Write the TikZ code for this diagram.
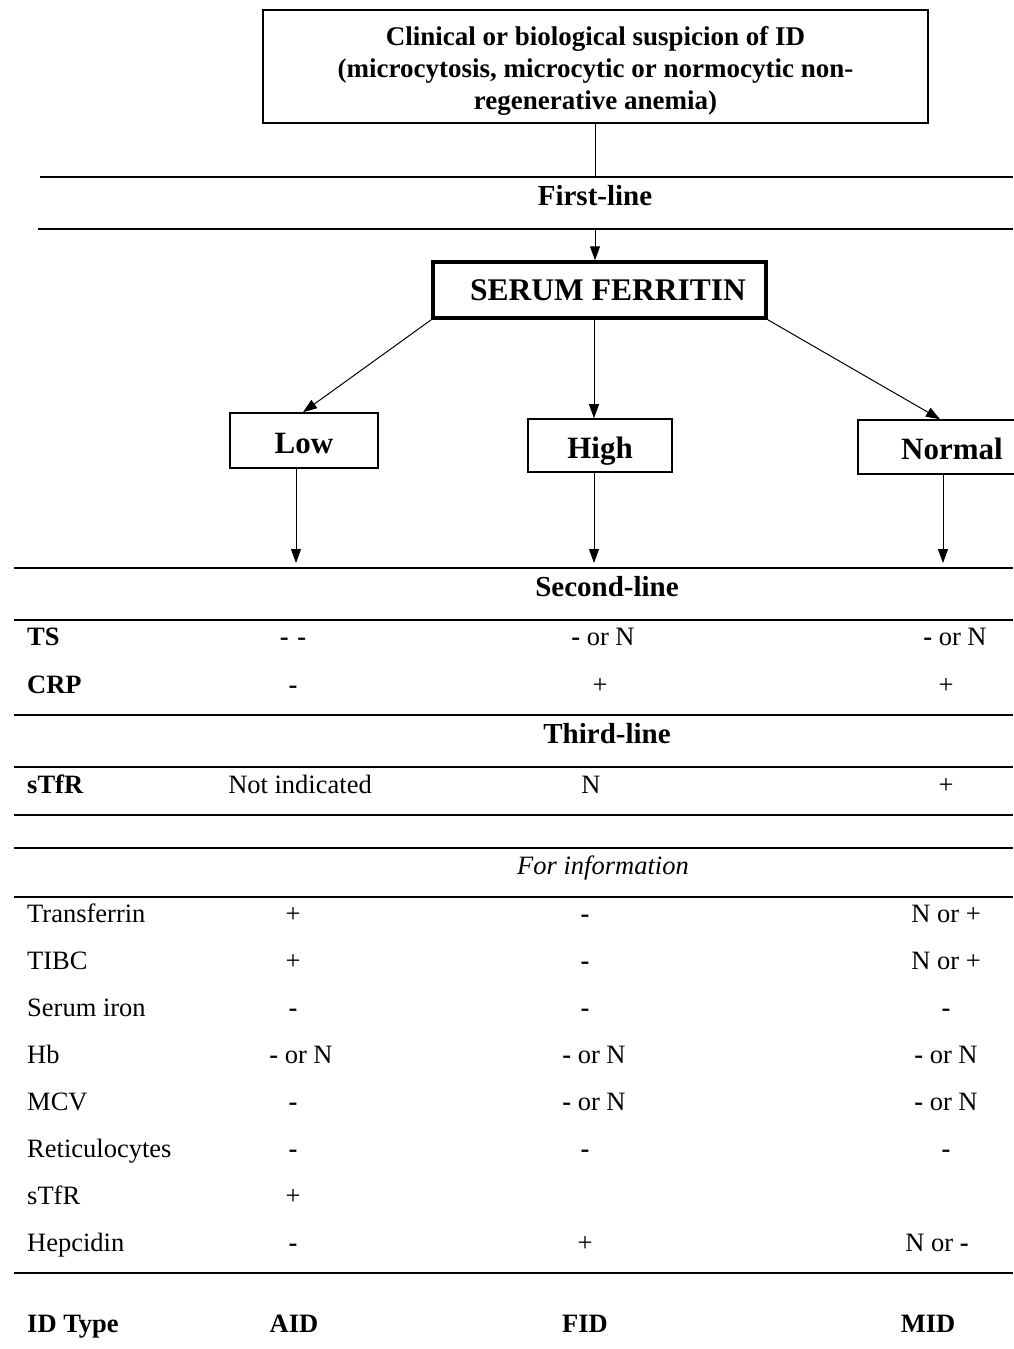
\documentclass[tikz,border=0pt]{standalone}
\usepackage{fontspec}
\setmainfont{Liberation Serif}
\usetikzlibrary{arrows.meta}
\begin{document}
\begin{tikzpicture}[x=1pt,y=-1pt,
  rulel/.style={line width=1.8pt},
  boxn/.style={draw, line width=1.6pt, inner sep=0pt},
  arr/.style={line width=1pt, -{Triangle[length=14pt,width=10pt]}},
  body/.style={anchor=base, inner sep=0pt, font=\fontsize{26.5}{30}\selectfont},
  lbl/.style={body, anchor=base west},
  blbl/.style={body, anchor=base west, font=\fontsize{26.5}{30}\selectfont\bfseries},
  head/.style={anchor=base, inner sep=0pt, font=\fontsize{29}{33}\selectfont\bfseries},
  bval/.style={body, font=\fontsize{26.5}{30}\selectfont\bfseries},
  res/.style={boxn, text height=25pt, text depth=0pt, font=\fontsize{31}{35}\selectfont\bfseries}
]
\useasboundingbox (0,0) rectangle (1013,1349);

% top box
\node[boxn, minimum width=665pt, minimum height=113pt, align=center,
  font=\fontsize{27}{32}\selectfont\bfseries] (top) at (595.5,66.5)
  {\rule{0pt}{28pt}Clinical or biological suspicion of ID\\(microcytosis, microcytic or normocytic non-\\regenerative anemia)};

% rules
\draw[rulel] (40,177) -- (1013,177);
\draw[rulel] (38,229) -- (1013,229);
\draw[rulel] (14,568) -- (1013,568);
\draw[rulel] (14,620) -- (1013,620);
\draw[rulel] (14,715) -- (1013,715);
\draw[rulel] (14,767) -- (1013,767);
\draw[rulel] (14,815) -- (1013,815);
\draw[rulel] (14,848) -- (1013,848);
\draw[rulel] (14,897) -- (1013,897);
\draw[rulel] (14,1273) -- (1013,1273);

\coordinate (f1) at (595,177);
\coordinate (f2) at (595,229);
\draw[line width=1pt] (top.south -| f1) -- (f1);

\node[head] (first) at (595,205) {First-line};

% serum ferritin
\node[draw, line width=3.5pt, inner sep=0pt, minimum width=333pt, minimum height=56pt,
  font=\fontsize{31.5}{35}\selectfont\bfseries] (sf) at (599.5,290) {\hspace*{17pt}SERUM FERRITIN};
\draw[arr] (f2) -- (sf.north -| f2);

% result boxes
\node[res, minimum width=148pt, minimum height=55pt] (low) at (304,440.5) {Low};
\node[res, minimum width=144pt, minimum height=53pt] (high) at (600,445.5) {High};
\node[res, minimum width=188pt, minimum height=54pt] (normal) at (952,447) {Normal};

\draw[arr] (sf.south west) -- ([xshift=-1pt]low.north);
\draw[arr] ([xshift=-5.5pt]sf.south) -- ([xshift=-6pt]high.north);
\draw[arr] (sf.south east) -- ([xshift=-12pt]normal.north);

\coordinate (d1) at (296,563);
\coordinate (d2) at (594,563);
\coordinate (d3) at (943,563);
\draw[arr] (low.south -| d1) -- (d1);
\draw[arr] (high.south -| d2) -- (d2);
\draw[arr] (normal.south -| d3) -- (d3);

% second line
\node[head] (second) at (607,596) {Second-line};
\node[blbl] (ts) at (27,645) {TS};
\node[bval] (ts1) at (293,645) {-\,\,-};
\node[body] (ts2) at (603,645) {\textbf{-} or N};
\node[body] (ts3) at (955,645) {\textbf{-} or N};
\node[blbl] (crp) at (27,693) {CRP};
\node[bval] (crp1) at (293,693) {-};
\node[body] (crp2) at (600,693) {+};
\node[body] (crp3) at (946,693) {+};

% third line
\node[head] (third) at (607,743) {Third-line};
\node[blbl] (stfr) at (27,793) {sTfR};
\node[body] (stfr1) at (300,793) {Not indicated};
\node[body] (stfr2) at (591,793) {N};
\node[body] (stfr3) at (946,793) {+};

% for information
\node[body, font=\fontsize{26.5}{30}\selectfont\itshape] (info) at (603,874) {For information};

\node[lbl] (r1) at (27,922) {Transferrin};
\node[body] (r1a) at (293,922) {+};
\node[bval] (r1b) at (585,922) {-};
\node[body] (r1c) at (946,922) {N or +};

\node[lbl] (r2) at (27,969) {TIBC};
\node[body] (r2a) at (293,969) {+};
\node[bval] (r2b) at (585,969) {-};
\node[body] (r2c) at (946,969) {N or +};

\node[lbl] (r3) at (27,1016) {Serum iron};
\node[bval] (r3a) at (293,1016) {-};
\node[bval] (r3b) at (585,1016) {-};
\node[bval] (r3c) at (946,1016) {-};

\node[lbl] (r4) at (27,1063) {Hb};
\node[body] (r4a) at (301,1063) {\textbf{-} or N};
\node[body] (r4b) at (594,1063) {\textbf{-} or N};
\node[body] (r4c) at (946,1063) {\textbf{-} or N};

\node[lbl] (r5) at (27,1110) {MCV};
\node[bval] (r5a) at (293,1110) {-};
\node[body] (r5b) at (594,1110) {\textbf{-} or N};
\node[body] (r5c) at (946,1110) {\textbf{-} or N};

\node[lbl] (r6) at (27,1157) {Reticulocytes};
\node[bval] (r6a) at (293,1157) {-};
\node[bval] (r6b) at (585,1157) {-};
\node[bval] (r6c) at (946,1157) {-};

\node[lbl] (r7) at (27,1204) {sTfR};
\node[body] (r7a) at (293,1204) {+};

\node[lbl] (r8) at (27,1251) {Hepcidin};
\node[bval] (r8a) at (293,1251) {-};
\node[body] (r8b) at (585,1251) {+};
\node[body] (r8c) at (937,1251) {N or \textbf{-}};

% ID type
\node[blbl] (idt) at (27,1332) {ID Type};
\node[bval] (aid) at (294,1332) {AID};
\node[bval] (fid) at (585,1332) {FID};
\node[bval] (mid) at (928,1332) {MID};
\end{tikzpicture}
\end{document}
